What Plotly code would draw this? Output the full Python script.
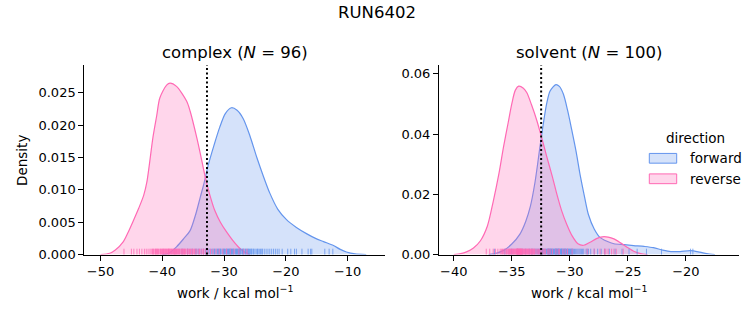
import plotly.graph_objects as go

# ---------------- data ----------------
TITLE = "RUN6402"
PANELS = ["complex", "solvent"]
N_VALUES = [96, 100]
DIRECTIONS = ["forward", "reverse"]

# KDE curves, complex
cplx_fwd_x = [-40.0, -39.0, -37.7, -36.5, -35.5, -34.6, -33.9, -33.2, -32.6, -31.6, -30.7, -29.8, -28.8,
              -27.9, -26.9, -25.8, -24.7, -23.6, -22.6, -21.3, -19.9, -18.3, -16.6, -15.2, -13.9, -12.3,
              -11.2, -10.2, -8.8, -7.0]
cplx_fwd_y = [0.0, 0.0002, 0.0012, 0.0025, 0.0037, 0.0062, 0.0087, 0.0112, 0.0137, 0.0170, 0.0197, 0.0218,
              0.0227, 0.0223, 0.0210, 0.0183, 0.0150, 0.0120, 0.0095, 0.0070, 0.0054, 0.0042, 0.0032, 0.0025,
              0.0020, 0.0014, 0.0008, 0.0004, 0.0001, 0.0]
cplx_rev_x = [-50.0, -48.5, -47.6, -46.3, -45.5, -44.7, -43.8, -43.0, -42.5, -41.5, -40.9, -40.4, -39.3,
              -38.75, -37.7, -36.05, -35.5, -34.4, -33.6, -33.0, -32.3, -31.5, -30.6, -29.6, -28.6, -27.6,
              -26.7, -25.8]
cplx_rev_y = [0.0, 0.0002, 0.0007, 0.0020, 0.0035, 0.0052, 0.0072, 0.0092, 0.0112, 0.0182, 0.0215, 0.0242,
              0.0262, 0.0265, 0.0260, 0.0237, 0.0222, 0.0180, 0.0145, 0.0118, 0.0092, 0.0068, 0.0050, 0.0035,
              0.0022, 0.0011, 0.0004, 0.0]

# KDE curves, solvent
solv_fwd_x = [-37.0, -36.3, -35.7, -35.0, -34.3, -33.8, -33.4, -33.0, -32.6, -32.3, -32.0, -31.7, -31.2,
              -30.9, -30.55, -30.2, -29.83, -29.45, -29.1, -28.75, -28.4, -27.9, -27.4, -26.8, -26.2, -25.3,
              -24.5, -23.6, -22.8, -22.0, -21.3, -20.5, -19.6, -18.8, -18.2, -17.5]
solv_fwd_y = [0.0, 0.0005, 0.0014, 0.0035, 0.0068, 0.0110, 0.0160, 0.0240, 0.0350, 0.0430, 0.0500, 0.0543,
              0.0564, 0.0558, 0.0532, 0.0480, 0.0413, 0.0340, 0.0262, 0.0195, 0.0133, 0.0085, 0.0057, 0.0044,
              0.0036, 0.0033, 0.0030, 0.0027, 0.0023, 0.0015, 0.0010, 0.0010, 0.0013, 0.0008, 0.0003, 0.0]
solv_rev_x = [-40.0, -39.4, -38.9, -38.3, -37.7, -37.1, -36.6, -36.1, -35.7, -35.3, -35.0, -34.7, -34.4,
              -34.0, -33.7, -33.3, -32.85, -32.4, -32.0, -31.5, -31.1, -30.7, -30.26, -29.8, -29.3, -28.8,
              -28.25, -27.7, -27.2, -26.7, -26.2, -25.6, -25.1, -24.5, -23.9, -23.3]
solv_rev_y = [0.0, 0.0003, 0.0009, 0.0022, 0.0046, 0.0095, 0.0176, 0.0270, 0.0360, 0.0440, 0.0500, 0.0545,
              0.0559, 0.0552, 0.0537, 0.0497, 0.0446, 0.0385, 0.0327, 0.0258, 0.0198, 0.0145, 0.0100, 0.0062,
              0.0036, 0.0031, 0.0041, 0.0053, 0.0059, 0.0058, 0.0052, 0.0038, 0.0025, 0.0011, 0.0003, 0.0]

# rug samples (individual work values)
cplx_fwd_rug = [-36.8, -35.9, -35.2, -34.6, -34.1, -33.7, -33.3, -33.0, -32.6, -32.3,
                -32.0, -31.8, -31.5, -31.3, -31.1, -30.9, -30.7, -30.5, -30.3, -30.1,
                -29.9, -29.8, -29.6, -29.4, -29.3, -29.1, -29.0, -28.8, -28.7, -28.5,
                -28.4, -28.2, -28.1, -27.9, -27.8, -27.6, -27.4, -27.3, -27.1, -26.9,
                -26.8, -26.6, -26.4, -26.2, -26.1, -25.9, -25.7, -25.5, -25.3, -25.0,
                -24.8, -24.6, -24.3, -24.1, -23.8, -23.5, -23.2, -22.9, -22.6, -22.3,
                -22.0, -21.7, -21.4, -21.1, -20.6, -19.7, -19.2, -18.6, -18.3, -17.4,
                -16.4, -16.0, -15.8, -13.7, -13.0, -12.4,
                -31.6, -31.0, -30.6, -30.0, -29.5, -29.2, -28.9, -28.6, -28.0, -27.7,
                -27.5, -27.0, -26.5, -26.0, -25.6, -25.2, -24.5, -23.9, -32.8, -34.4]
cplx_rev_rug = [-46.2, -45.0, -44.6, -44.1, -43.7, -43.3, -42.9, -42.6, -42.3, -42.0,
                -41.8, -41.6, -41.4, -41.2, -41.0, -40.8, -40.6, -40.4, -40.3, -40.1,
                -39.9, -39.8, -39.6, -39.5, -39.3, -39.2, -39.0, -38.9, -38.8, -38.6,
                -38.5, -38.3, -38.2, -38.0, -37.9, -37.7, -37.6, -37.4, -37.3, -37.1,
                -36.9, -36.8, -36.6, -36.4, -36.2, -36.0, -35.8, -35.6, -35.4, -35.2,
                -35.0, -34.8, -34.5, -34.2, -33.9, -33.6, -33.3, -33.0, -32.6, -32.2,
                -31.8, -31.3, -30.8, -30.2, -29.6, -29.0, -28.4, -27.6, -26.8, -26.3,
                -41.5, -41.1, -40.7, -40.2, -39.7, -39.4, -39.1, -38.7, -38.4, -38.1,
                -37.8, -37.5, -37.2, -36.7, -36.3, -35.9, -35.5, -35.1, -34.7, -34.0,
                -33.4, -40.9, -39.95, -38.95, -37.95, -36.5]
solv_fwd_rug = [-36.5, -35.6, -35.0, -34.5, -34.1, -33.8, -33.5, -33.2, -33.0, -32.8,
                -32.6, -32.5, -32.3, -32.2, -32.0, -31.9, -31.8, -31.7, -31.6, -31.5,
                -31.4, -31.3, -31.2, -31.1, -31.0, -30.9, -30.8, -30.7, -30.6, -30.5,
                -30.4, -30.3, -30.2, -30.1, -30.0, -29.9, -29.8, -29.7, -29.5, -29.4,
                -29.2, -29.0, -28.8, -28.6, -28.4, -28.2, -27.9, -27.6, -27.3, -27.0,
                -26.6, -26.1, -25.5, -24.9, -24.2, -23.4, -22.1, -19.6, -19.4,
                -32.9, -32.7, -32.4, -32.1, -31.95, -31.85, -31.75, -31.65, -31.55, -31.45,
                -31.35, -31.25, -31.15, -31.05, -30.95, -30.85, -30.75, -30.65, -30.55, -30.45,
                -30.35, -30.25, -30.15, -30.05, -29.95, -29.85, -29.6, -29.3, -29.1, -28.9,
                -31.22, -31.12, -30.98, -30.72, -31.62, -31.82, -32.35, -30.42, -29.75, -28.5, -33.3]
solv_rev_rug = [-37.2, -36.6, -36.2, -35.9, -35.7, -35.5, -35.3, -35.2, -35.1, -35.0,
                -34.9, -34.8, -34.7, -34.6, -34.55, -34.5, -34.45, -34.4, -34.35, -34.3,
                -34.25, -34.2, -34.15, -34.1, -34.0, -33.9, -33.8, -33.7, -33.6, -33.5,
                -33.4, -33.3, -33.2, -33.1, -33.0, -32.9, -32.7, -32.5, -32.3, -32.1,
                -31.9, -31.7, -31.5, -31.2, -30.9, -30.6, -30.2, -29.8,
                -27.9, -27.4, -27.0, -26.7, -26.4, -26.0, -25.4,
                -36.9, -36.4, -36.0, -35.8, -35.6, -35.45, -35.35, -35.25, -35.15, -35.05,
                -34.95, -34.85, -34.75, -34.65, -34.58, -34.52, -34.48, -34.42, -34.38, -34.32,
                -34.28, -34.22, -34.18, -34.12, -34.05, -33.95, -33.85, -33.75, -33.65, -33.55,
                -33.45, -33.35, -33.25, -33.15, -33.05, -32.8, -32.6, -32.4, -32.2, -31.8,
                -31.0, -30.4, -28.5, -26.9, -26.2]

# dotted reference line (free-energy estimate) per panel
ref_line_x = [-32.77, -32.47]

# axis ticks
x_ticks = [[-50, -40, -30, -20, -10], [-40, -35, -30, -25, -20]]
y_ticks = [[0.0, 0.005, 0.010, 0.015, 0.020, 0.025], [0.0, 0.02, 0.04, 0.06]]
y_fmt = [".3f", ".2f"]
x_ranges = [[-52.62, -3.96], [-41.27, -15.4]]
y_ranges = [[0.0, 0.0293], [0.0, 0.0629]]

# ---------------- style ----------------
W, H = 753, 325
FONT = "DejaVu Sans"
COLORS = {"forward": "#6495ED", "reverse": "#FF69B4"}
FILLS = {"forward": "rgba(100,149,237,0.27)", "reverse": "rgba(255,105,180,0.27)"}
RUGS = {"forward": "rgba(100,149,237,0.8)", "reverse": "rgba(255,105,180,0.8)"}

x_dom_px = [(84.3, 385.0), (439.0, 739.3)]
y_dom_px = (66.7, 261.0)


def px_x(p):
    return p / W


def px_y(p):
    return 1 - p / H


curves = {
    ("complex", "forward"): (cplx_fwd_x, cplx_fwd_y, cplx_fwd_rug),
    ("complex", "reverse"): (cplx_rev_x, cplx_rev_y, cplx_rev_rug),
    ("solvent", "forward"): (solv_fwd_x, solv_fwd_y, solv_fwd_rug),
    ("solvent", "reverse"): (solv_rev_x, solv_rev_y, solv_rev_rug),
}

fig = go.Figure()
layout = dict(
    width=W, height=H, autosize=False,
    margin=dict(l=0, r=0, t=0, b=0),
    paper_bgcolor="white", plot_bgcolor="white",
    font=dict(family=FONT, size=13, color="black"),
    showlegend=False,
    shapes=[], annotations=[],
)

for i, panel in enumerate(PANELS):
    sx = "" if i == 0 else str(i + 1)
    xa, ya = "x" + sx, "y" + sx
    rug_ax_num = i + 3
    rya = "y" + str(rug_ax_num)
    xd = [px_x(x_dom_px[i][0]), px_x(x_dom_px[i][1])]
    yd = [px_y(y_dom_px[1]), px_y(y_dom_px[0])]

    layout["xaxis" + sx] = dict(
        domain=xd, range=x_ranges[i], anchor=ya, tickvals=x_ticks[i],
        showline=True, linecolor="black", linewidth=1, mirror=False,
        ticks="outside", ticklen=5, tickwidth=1, tickcolor="black",
        showgrid=False, zeroline=False, tickfont=dict(size=13),
    )
    layout["yaxis" + sx] = dict(
        domain=yd, range=y_ranges[i], anchor=xa, tickvals=y_ticks[i], tickformat=y_fmt[i],
        showline=True, linecolor="black", linewidth=1, mirror=False,
        ticks="outside", ticklen=5, tickwidth=1, tickcolor="black",
        showgrid=False, zeroline=False, tickfont=dict(size=13),
    )
    layout["yaxis" + str(rug_ax_num)] = dict(
        domain=yd, range=[0, 1], anchor=xa, overlaying=ya, visible=False,
        showgrid=False, zeroline=False,
    )

    for d in DIRECTIONS:
        cx, cy, rug = curves[(panel, d)]
        fig.add_trace(go.Scatter(
            x=cx, y=cy, mode="lines", xaxis=xa, yaxis=ya,
            line=dict(color=COLORS[d], width=1.2, shape="spline", smoothing=0.8),
            fill="tozeroy", fillcolor=FILLS[d], hoverinfo="skip",
        ))
    for d in DIRECTIONS:
        cx, cy, rug = curves[(panel, d)]
        # seaborn rug: height 0.025 of the axes, drawn from the bottom
        fig.add_trace(go.Scatter(
            x=rug, y=[0.0125] * len(rug), mode="markers", xaxis=xa, yaxis=rya,
            marker=dict(symbol="line-ns", size=5, color=RUGS[d],
                        line=dict(color=RUGS[d], width=1)),
            hoverinfo="skip",
        ))

    layout["shapes"].append(dict(
        type="line", xref=xa, yref=ya + " domain", x0=ref_line_x[i], x1=ref_line_x[i], y0=0, y1=1,
        line=dict(color="black", width=2, dash="2px,2.5px"),
    ))

    cx_paper = (xd[0] + xd[1]) / 2
    layout["annotations"].append(dict(
        text=f"{panel} (<i>N</i> = {N_VALUES[i]})", x=cx_paper, y=px_y(54), xref="paper", yref="paper",
        showarrow=False, xanchor="center", yanchor="middle", font=dict(size=16.5),
    ))
    layout["annotations"].append(dict(
        text="work / kcal mol<sup>−1</sup>", x=cx_paper, y=px_y(299), xref="paper", yref="paper",
        showarrow=False, xanchor="center", yanchor="middle", font=dict(size=13.5),
    ))

layout["annotations"].append(dict(
    text=TITLE, x=0.5, y=px_y(13), xref="paper", yref="paper", showarrow=False,
    xanchor="center", yanchor="middle", font=dict(size=16.5),
))
layout["annotations"].append(dict(
    text="Density", x=px_x(22), y=px_y(165), xref="paper", yref="paper", showarrow=False,
    xanchor="center", yanchor="middle", textangle=-90, font=dict(size=13.5),
))

# legend (drawn manually to mimic matplotlib patches)
layout["annotations"].append(dict(
    text="direction", x=px_x(695), y=px_y(141), xref="paper", yref="paper", showarrow=False,
    xanchor="center", yanchor="middle", font=dict(size=13.5),
))
for k, d in enumerate(DIRECTIONS):
    top = 157.3 + k * 21
    layout["shapes"].append(dict(
        type="rect", xref="paper", yref="paper",
        x0=px_x(649.3), x1=px_x(676.7), y0=px_y(top + 10), y1=px_y(top),
        fillcolor=FILLS[d], line=dict(color=COLORS[d], width=1),
    ))
    layout["annotations"].append(dict(
        text=d, x=px_x(688), y=px_y(top + 5), xref="paper", yref="paper", showarrow=False,
        xanchor="left", yanchor="middle", font=dict(size=13.5),
    ))

fig.update_layout(**layout)
fig.write_html("out.html", config={"displayModeBar": False})
